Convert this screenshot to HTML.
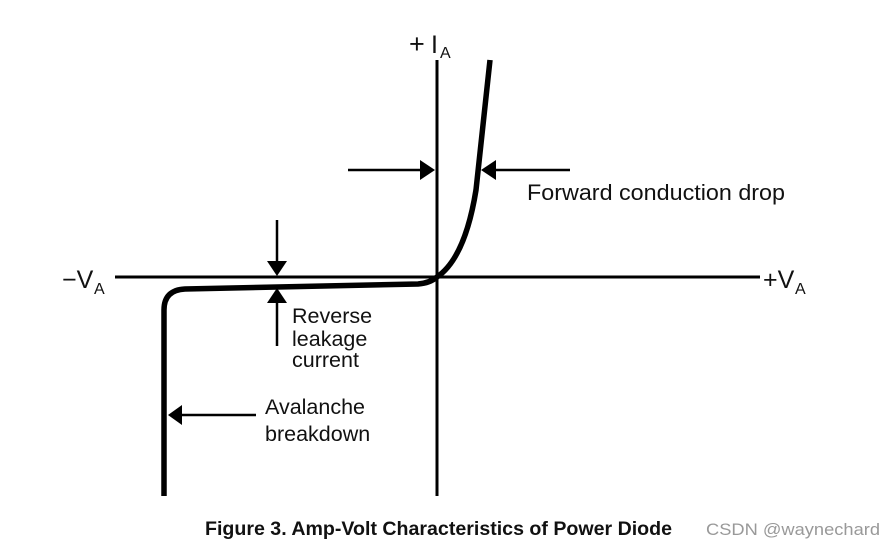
<!DOCTYPE html>
<html><head><style>
body{margin:0;background:#fff;}
svg{display:block;}
text{font-family:"Liberation Sans",sans-serif;fill:#111;}
</style></head><body>
<svg width="895" height="549" viewBox="0 0 895 549">
<g stroke="#000" stroke-width="3" fill="none">
<line x1="115" y1="277" x2="760" y2="277"/>
<line x1="437" y1="60" x2="437" y2="496"/>
</g>
<path d="M164,496 L164,310 Q164,290 185,289 L418,284 Q430,283 437,277 Q465,258 476,190 L490,60" stroke="#000" stroke-width="5.5" fill="none"/>
<g stroke="#000" stroke-width="2.5" fill="none">
<line x1="348" y1="170" x2="420" y2="170"/>
<line x1="570" y1="170" x2="496" y2="170"/>
<line x1="277" y1="220" x2="277" y2="262"/>
<line x1="277" y1="346" x2="277" y2="302"/>
<line x1="256" y1="415" x2="182" y2="415"/>
</g>
<g fill="#000">
<path d="M420,160 L435,170 L420,180 z"/>
<path d="M496,160 L481,170 L496,180 z"/>
<path d="M267,261 L277,276 L287,261 z"/>
<path d="M267,303 L277,288 L287,303 z"/>
<path d="M182,405 L168,415 L182,425 z"/>
</g>
<text x="409" y="53" font-size="27">+</text><text x="431" y="53" font-size="25">I</text><text x="440" y="58" font-size="16">A</text>
<text x="62" y="288" font-size="25">−V</text><text x="94" y="294" font-size="16">A</text>
<text x="763" y="288" font-size="25">+V</text><text x="795" y="294" font-size="16">A</text>
<text x="527" y="200" font-size="22" textLength="258" lengthAdjust="spacingAndGlyphs">Forward conduction drop</text>
<text font-size="21.5"><tspan x="292" y="323">Reverse</tspan><tspan x="292" y="346">leakage</tspan><tspan x="292" y="367">current</tspan></text>
<text font-size="21.5"><tspan x="265" y="414">Avalanche</tspan><tspan x="265" y="441">breakdown</tspan></text>
<text x="205" y="535" font-size="19" font-weight="bold" textLength="467" lengthAdjust="spacingAndGlyphs">Figure 3. Amp-Volt Characteristics of Power Diode</text>
<text x="706" y="535" font-size="17" textLength="174" lengthAdjust="spacingAndGlyphs" style="fill:#999">CSDN @waynechard</text>
</svg>
</body></html>
